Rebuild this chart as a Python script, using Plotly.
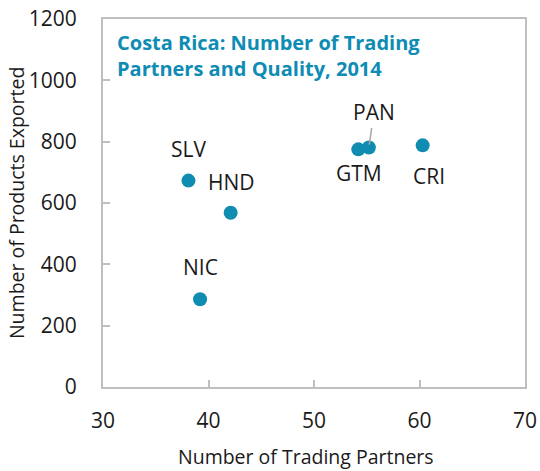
import plotly.graph_objects as go

countries = ["SLV", "HND", "NIC", "GTM", "PAN", "CRI"]
trading_partners = [38.1, 42.1, 39.2, 54.2, 55.2, 60.3]
products_exported = [673, 568, 286, 775, 781, 788]

# label offsets in pixels (dx, dy) relative to each point
label_dx = [0, 1, 0, 1, 0, 6]
label_dy = [-32, -31, -32, 24, 0, 31]

dot_color = "#0F8CB0"
font_family = "Open Sans, Noto Sans, sans-serif"
text_color = "#1a1a1a"

fig = go.Figure()
fig.add_trace(go.Scatter(
    x=trading_partners, y=products_exported, mode="markers",
    marker=dict(size=14, color=dot_color),
    hoverinfo="skip", showlegend=False,
))

for c, x, y, dx, dy in zip(countries, trading_partners, products_exported, label_dx, label_dy):
    if c == "PAN":
        fig.add_annotation(
            x=x, y=y, text=c, showarrow=True, arrowhead=0, arrowwidth=1.5,
            arrowcolor="#A6A6A6", ax=5, ay=-35, standoff=3,
            font=dict(size=21, color=text_color, family=font_family),
        )
    else:
        fig.add_annotation(
            x=x, y=y, text=c, showarrow=False, xshift=dx, yshift=-dy,
            font=dict(size=21, color=text_color, family=font_family),
        )

fig.add_annotation(
    xref="paper", yref="paper", x=0.028, y=0.978, xanchor="left", yanchor="top",
    align="left", showarrow=False,
    text="<b>Costa Rica: Number of Trading<br>Partners and Quality, 2014</b>",
    font=dict(size=20, color="#0E8CB4", family=font_family),
)

# axis titles
fig.add_annotation(
    xref="paper", yref="paper", x=0.48, y=-0.19, xanchor="center", yanchor="middle",
    showarrow=False, text="Number of Trading Partners",
    font=dict(size=19.5, color=text_color, family=font_family),
)
fig.add_annotation(
    xref="paper", yref="paper", x=-0.206, y=0.5, xanchor="center", yanchor="middle",
    showarrow=False, text="Number of Products Exported", textangle=-90,
    font=dict(size=19.5, color=text_color, family=font_family),
)

axis_common = dict(
    showgrid=False, zeroline=False, showline=True, mirror=True, automargin=False,
    linecolor="#BFBFBF", linewidth=2, ticks="inside", ticklen=7,
    tickcolor="#BFBFBF", tickwidth=1.5, ticklabeloverflow="allow",
    tickfont=dict(size=21, color=text_color, family=font_family),
)

fig.update_layout(
    width=540, height=471,
    margin=dict(l=103, r=15, t=19, b=84),
    paper_bgcolor="white", plot_bgcolor="white",
    font=dict(family=font_family, color=text_color),
    xaxis=dict(range=[30, 70], tickvals=[30, 40, 50, 60, 70], ticklabelstandoff=14,
               **axis_common),
    yaxis=dict(range=[0, 1200], tickvals=[0, 200, 400, 600, 800, 1000, 1200],
               ticklabelstandoff=20, **axis_common),
)

fig.write_html(
    "out.html",
    config={"displayModeBar": False},
    post_script="document.body.style.margin='0';document.body.style.overflow='hidden';",
)
